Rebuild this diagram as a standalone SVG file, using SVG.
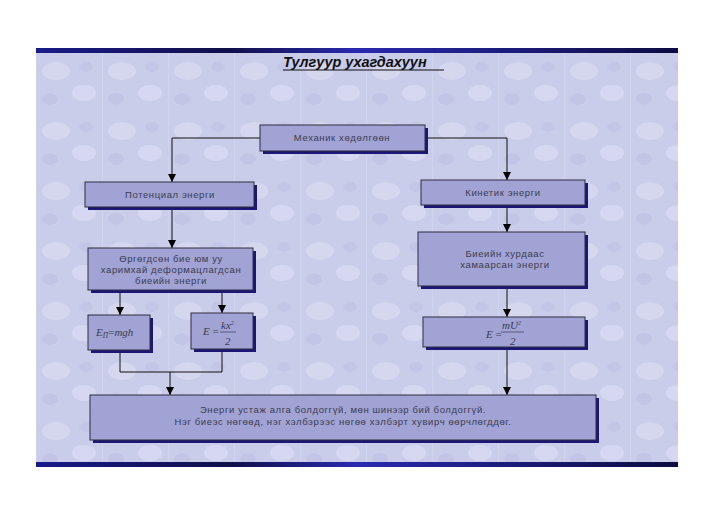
<svg xmlns="http://www.w3.org/2000/svg" width="728" height="515" viewBox="0 0 728 515">
<defs>
<pattern id="tex" x="36" y="53" width="66" height="60" patternUnits="userSpaceOnUse">
<rect width="66" height="60" fill="#cacdea"/>
<ellipse cx="20" cy="18" rx="14" ry="9" fill="#dadcf2" opacity="0.7"/>
<ellipse cx="48" cy="40" rx="12" ry="8" fill="#dcdff3" opacity="0.6"/>
<ellipse cx="14" cy="46" rx="8" ry="6" fill="#babee2" opacity="0.5"/>
<ellipse cx="50" cy="14" rx="7" ry="5" fill="#bcc0e3" opacity="0.5"/>
<line x1="0" y1="0" x2="0" y2="60" stroke="#d6d9f0" stroke-width="1"/>
</pattern>
<linearGradient id="band" x1="0" y1="0" x2="1" y2="0">
<stop offset="0" stop-color="#1a1a8a"/>
<stop offset="0.3" stop-color="#10104a"/>
<stop offset="0.5" stop-color="#2a2ab0"/>
<stop offset="1" stop-color="#0c0c40"/>
</linearGradient>
<marker id="ah" markerWidth="8" markerHeight="8" refX="8" refY="4" orient="auto" markerUnits="userSpaceOnUse" viewBox="0 0 8 8">
<path d="M0,0 L8,4 L0,8 Z" fill="#000"/>
</marker>
</defs>
<style>
.box{fill:#a0a3d4;stroke:#2e2e3e;stroke-width:1}
.sh{fill:#1c1676}
.t{font-family:"Liberation Sans",Arial,sans-serif;font-size:9.5px;fill:#3c3c50;letter-spacing:0.6px;text-anchor:middle}
.f{font-family:"Liberation Serif","Times New Roman",serif;font-style:italic;font-size:11px;fill:#3c3c50}
.c{fill:none;stroke:#111;stroke-width:1}
</style>
<rect width="728" height="515" fill="#ffffff"/>
<rect x="36" y="48" width="642" height="419" fill="url(#tex)"/>
<rect x="36" y="48" width="642" height="5" fill="url(#band)"/>
<rect x="36" y="462" width="642" height="5" fill="url(#band)"/>
<g id="title">
<text x="283" y="67" font-family="Liberation Sans,Arial,sans-serif" font-size="14.5" font-weight="bold" font-style="italic" fill="#111">Тулгуур  ухагдахуун</text>
<line x1="283" y1="70" x2="444" y2="70" stroke="#111" stroke-width="1.2"/>
</g>
<g id="connectors">
<path class="c" d="M260,138 H172 V182" marker-end="url(#ah)"/>
<path class="c" d="M425,138 H507 V180" marker-end="url(#ah)"/>
<path class="c" d="M172,207 V248" marker-end="url(#ah)"/>
<path class="c" d="M507,205 V232" marker-end="url(#ah)"/>
<path class="c" d="M120,290 V315" marker-end="url(#ah)"/>
<path class="c" d="M222,290 V313" marker-end="url(#ah)"/>
<path class="c" d="M507,286 V317" marker-end="url(#ah)"/>
<path class="c" d="M120,350 V372 H222 V349"/>
<path class="c" d="M170,372 V395" marker-end="url(#ah)"/>
<path class="c" d="M507,347 V395" marker-end="url(#ah)"/>
</g>
<g id="mech">
<rect class="sh" x="263" y="128" width="165" height="26"/>
<rect class="box" x="260" y="125" width="165" height="26"/>
<text class="t" x="342" y="141">Механик хөдөлгөөн</text>
</g>
<g id="potential">
<rect class="sh" x="88" y="185" width="169" height="25"/>
<rect class="box" x="85" y="182" width="169" height="25"/>
<text class="t" x="170" y="198">Потенциал энерги</text>
</g>
<g id="kinetic">
<rect class="sh" x="424" y="183" width="164" height="25"/>
<rect class="box" x="421" y="180" width="164" height="25"/>
<text class="t" x="503" y="196">Кинетик энерги</text>
</g>
<g id="deform">
<rect class="sh" x="91" y="251" width="165" height="42"/>
<rect class="box" x="88" y="248" width="165" height="42"/>
<text class="t" x="171" y="262">Өргөгдсөн бие юм уу</text>
<text class="t" x="171" y="273">харимхай деформацлагдсан</text>
<text class="t" x="171" y="284">биеийн энерги</text>
</g>
<g id="speed">
<rect class="sh" x="421" y="235" width="167" height="54"/>
<rect class="box" x="418" y="232" width="167" height="54"/>
<text class="t" x="505" y="257">Биеийн хурдаас</text>
<text class="t" x="505" y="268">хамаарсан энерги</text>
</g>
<g id="ep">
<rect class="sh" x="91" y="318" width="62" height="35"/>
<rect class="box" x="88" y="315" width="62" height="35"/>
<text class="f" x="96" y="336">E<tspan font-size="7.5" dy="2">П</tspan><tspan dy="-2" font-style="normal">=</tspan>mgh</text>
</g>
<g id="ek">
<rect class="sh" x="194" y="316" width="62" height="36"/>
<rect class="box" x="191" y="313" width="62" height="36"/>
<text class="f" x="203" y="335">E<tspan font-style="normal"> =</tspan></text>
<text class="f" x="221" y="329">kx<tspan font-size="6" dy="-4">2</tspan></text>
<line x1="220" y1="332" x2="236" y2="332" stroke="#3c3c50" stroke-width="0.7"/>
<text class="f" x="225" y="345" font-style="normal">2</text>
</g>
<g id="emu">
<rect class="sh" x="426" y="320" width="162" height="30"/>
<rect class="box" x="423" y="317" width="162" height="30"/>
<text class="f" x="486" y="338">E<tspan font-style="normal"> =</tspan></text>
<text class="f" x="502" y="329">mU<tspan font-size="6" dy="-4">2</tspan></text>
<line x1="501" y1="332" x2="524" y2="332" stroke="#3c3c50" stroke-width="0.7"/>
<text class="f" x="510" y="345" font-style="normal">2</text>
</g>
<g id="law">
<rect class="sh" x="93" y="398" width="506" height="45"/>
<rect class="box" x="90" y="395" width="506" height="45"/>
<text class="t" x="343" y="413">Энерги устаж алга болдоггүй, мөн шинээр бий болдоггүй.</text>
<text class="t" x="343" y="425">Нэг биеэс нөгөөд, нэг хэлбэрээс нөгөө хэлбэрт хувирч өөрчлөгддөг.</text>
</g>
</svg>
